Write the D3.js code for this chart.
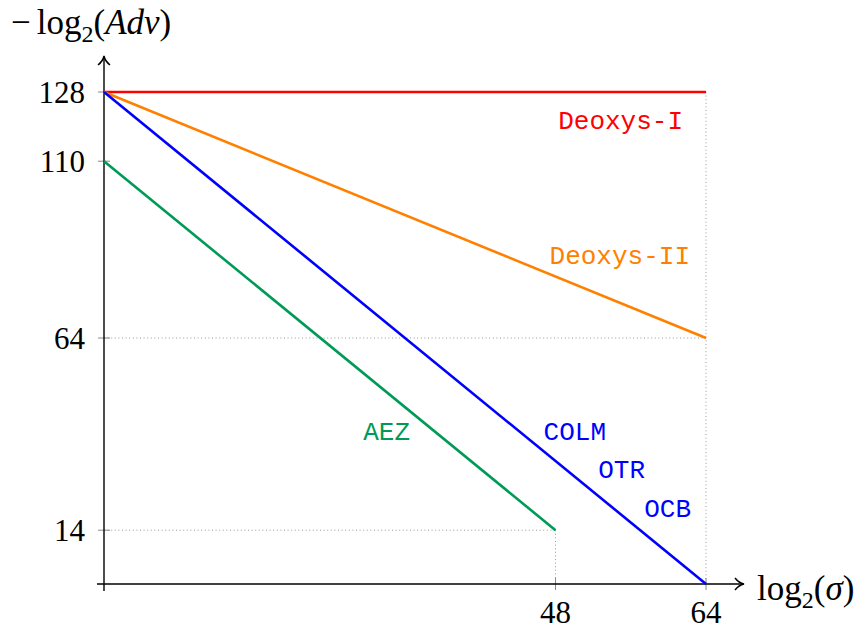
<!DOCTYPE html>
<html>
<head>
<meta charset="utf-8">
<script src="https://cdn.jsdelivr.net/npm/d3@7"></script>
<style>
  body { margin: 0; background: #fff; }
  svg { display: block; }
  .title { font-family: "Liberation Serif", "DejaVu Serif", serif; }
  .lbl { font-family: "Liberation Mono", "DejaVu Sans Mono", monospace; }
</style>
</head>
<body>
<svg id="chart" width="859" height="630"></svg>
<script>
// schemes and their bound lines: [log2(sigma), -log2(Adv)]
const schemes = ["Deoxys-I", "Deoxys-II", "COLM/OTR/OCB", "AEZ"];
const lineStart = [[0, 128], [0, 128], [0, 128], [0, 110]];
const lineEnd = [[64, 128], [64, 64], [64, 0], [48, 14]];
const colors = ["#ff0000", "#ff8000", "#0000ff", "#009a57"];

const labels = ["Deoxys-I", "Deoxys-II", "AEZ", "COLM", "OTR", "OCB"];
const labelColors = ["#ff0000", "#ff8000", "#009a57", "#0000ff", "#0000ff", "#0000ff"];

const yTicks = [14, 64, 110, 128];
const xTicks = [48, 64];

// guide lines (dotted)
const guides = [
  [[0, 64], [64, 64]],
  [[64, 128], [64, 0]],
  [[0, 14], [48, 14]],
  [[48, 14], [48, 0]]
];

const svg = d3.select("#chart");

const x = d3.scaleLinear().domain([0, 64]).range([104, 706]);
const y = d3.scaleLinear().domain([0, 128]).range([584, 92]);

// dotted guides
svg.selectAll(".guide")
  .data(guides)
  .enter().append("line")
  .attr("x1", d => x(d[0][0])).attr("y1", d => y(d[0][1]))
  .attr("x2", d => x(d[1][0])).attr("y2", d => y(d[1][1]))
  .attr("stroke", "#999")
  .attr("stroke-width", 1)
  .attr("stroke-dasharray", "1,2.6");

// ticks (grey, both sides)
svg.selectAll(".ytick")
  .data(yTicks)
  .enter().append("line")
  .attr("x1", x(0) - 6).attr("x2", x(0) + 6)
  .attr("y1", d => y(d)).attr("y2", d => y(d))
  .attr("stroke", "#888").attr("stroke-width", 1);

svg.selectAll(".xtick")
  .data(xTicks)
  .enter().append("line")
  .attr("x1", d => x(d)).attr("x2", d => x(d))
  .attr("y1", y(0) - 6).attr("y2", y(0) + 6)
  .attr("stroke", "#888").attr("stroke-width", 1);

// tick labels
svg.selectAll(".ylab")
  .data(yTicks)
  .enter().append("text")
  .attr("class", "title")
  .attr("x", x(0) - 19)
  .attr("y", d => y(d) + 11)
  .attr("text-anchor", "end")
  .attr("font-size", 31)
  .text(d => d);

svg.selectAll(".xlab")
  .data(xTicks)
  .enter().append("text")
  .attr("class", "title")
  .attr("x", d => x(d))
  .attr("y", y(0) + 39)
  .attr("text-anchor", "middle")
  .attr("font-size", 31)
  .text(d => d);

// axes
svg.append("line")
  .attr("x1", x(0) - 7).attr("x2", 742)
  .attr("y1", y(0)).attr("y2", y(0))
  .attr("stroke", "#000").attr("stroke-width", 1.4);
svg.append("line")
  .attr("x1", x(0)).attr("x2", x(0))
  .attr("y1", y(0) + 7).attr("y2", 57)
  .attr("stroke", "#000").attr("stroke-width", 1.4);

// arrow heads
svg.append("path")
  .attr("d", "M735,578 Q739,583 744,584 Q739,585 735,590")
  .attr("fill", "none").attr("stroke", "#000").attr("stroke-width", 1.5);
svg.append("path")
  .attr("d", "M98,65 Q103,61 104,56 Q105,61 110,65")
  .attr("fill", "none").attr("stroke", "#000").attr("stroke-width", 1.5);

// scheme lines
svg.selectAll(".scheme")
  .data(schemes)
  .enter().append("line")
  .attr("x1", (d, i) => x(lineStart[i][0])).attr("y1", (d, i) => y(lineStart[i][1]))
  .attr("x2", (d, i) => x(lineEnd[i][0])).attr("y2", (d, i) => y(lineEnd[i][1]))
  .attr("stroke", (d, i) => colors[i])
  .attr("stroke-width", 2.6);

// labels, right edge and baseline in pixels
const labelPos = [[683, 129], [690, 264], [410, 440], [606, 440], [645, 478], [691, 517]];
svg.selectAll(".lbl")
  .data(labels)
  .enter().append("text")
  .attr("class", "lbl")
  .attr("x", (d, i) => labelPos[i][0])
  .attr("y", (d, i) => labelPos[i][1])
  .attr("text-anchor", "end")
  .attr("font-size", 26)
  .attr("fill", (d, i) => labelColors[i])
  .text(d => d);

// axis titles
const yt = svg.append("text").attr("class", "title")
  .attr("x", 11).attr("y", 34).attr("font-size", 35);
yt.append("tspan").text("\u2212");
yt.append("tspan").attr("dx", 6).text("log");
yt.append("tspan").attr("font-size", 24).attr("dy", 8).text("2");
yt.append("tspan").attr("dy", -8).text("(");
yt.append("tspan").attr("font-style", "italic").text("Adv");
yt.append("tspan").text(")");

const xt = svg.append("text").attr("class", "title")
  .attr("x", 757).attr("y", 600).attr("font-size", 35);
xt.append("tspan").text("log");
xt.append("tspan").attr("font-size", 24).attr("dy", 8).text("2");
xt.append("tspan").attr("dy", -8).text("(");
xt.append("tspan").attr("font-style", "italic").text("\u03c3");
xt.append("tspan").text(")");
</script>
</body>
</html>
